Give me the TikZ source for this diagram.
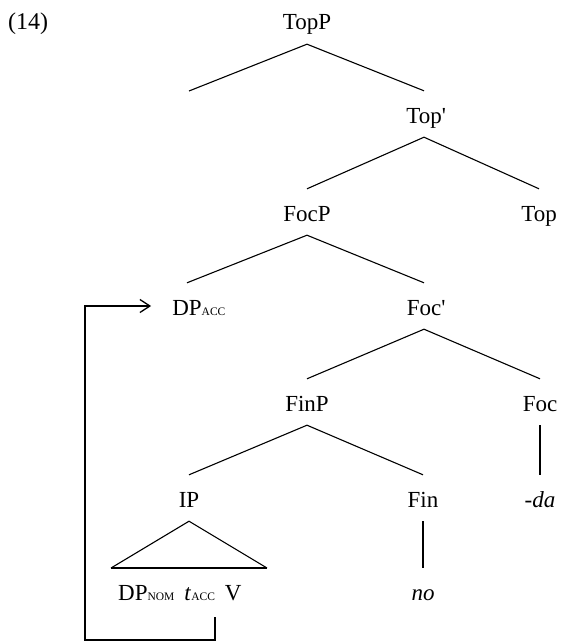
\documentclass[tikz,border=0pt]{standalone}
\usepackage{fontspec}
\setmainfont{Liberation Serif}
\usetikzlibrary{arrows.meta}
\newcommand\subsc[1]{{\fontsize{11.5}{12}\selectfont #1}}
\begin{document}
\begin{tikzpicture}[x=1pt,y=-1pt,
  tn/.style={anchor=base, inner xsep=0pt, inner ysep=9pt, text height=23pt, text depth=5pt, font=\fontsize{23}{27}\selectfont},
  br/.style={line width=1.1pt},
  vl/.style={line width=1.5pt},
  mv/.style={line width=1.5pt, -{Straight Barb[length=10pt,width=13pt,line width=1.3pt]}}]
\useasboundingbox (0,0) rectangle (561,642);
\node[anchor=base west, inner sep=0pt, font=\fontsize{24}{28}\selectfont] (ex) at (8,30) {(14)};
\node[tn] (TopP) at (307,30) {TopP};
\node[tn] (Topb) at (424,123) {Top\rlap{\textquotesingle}};
\node[tn] (FocP) at (307,221) {FocP};
\node[tn] (Top) at (539,221) {Top};
\node[tn] (DPacc) at (187,315) {DP\rlap{\subsc{ACC}}};
\node[tn] (Focb) at (424,315) {Foc\rlap{\textquotesingle}};
\node[tn] (FinP) at (307,411) {FinP};
\node[tn] (Foc) at (540,411) {Foc};
\node[tn] (IP) at (189,507) {IP};
\node[tn] (Fin) at (423,507) {Fin};
\node[tn] (da) at (540,507) {\textit{-da}};
\node[tn, anchor=base west] (bot) at (118,600) {DP\subsc{NOM}\hspace{10pt}\textit{t}\subsc{ACC}\hspace{10pt}V};
\node[tn] (no) at (423,600) {\textit{no}};
\coordinate (spec) at (189,91);
\coordinate (trir) at (267,568);
\coordinate (tril) at (111,568);
\coordinate (vfoot) at (215,617);
\coordinate (corner) at (85,640);
\draw[br] (TopP.south) -- (spec);
\draw[br] (TopP.south) -- (Topb.north);
\draw[br] (Topb.south) -- (FocP.north);
\draw[br] (Topb.south) -- (Top.north);
\draw[br] (FocP.south) -- (DPacc.north);
\draw[br] (FocP.south) -- (Focb.north);
\draw[br] (Focb.south) -- (FinP.north);
\draw[br] (Focb.south) -- (Foc.north);
\draw[br] (FinP.south) -- (IP.north);
\draw[br] (FinP.south) -- (Fin.north);
\draw[vl] (Foc.south) -- (da.north);
\draw[vl] (Fin.south) -- (no.north);
\draw[br] (tril) -- (IP.south) -- (trir);
\draw[vl] (tril) -- (trir);
\draw[mv] (vfoot) |- (corner) |- ([xshift=-21pt]DPacc.west);
\end{tikzpicture}
\end{document}
